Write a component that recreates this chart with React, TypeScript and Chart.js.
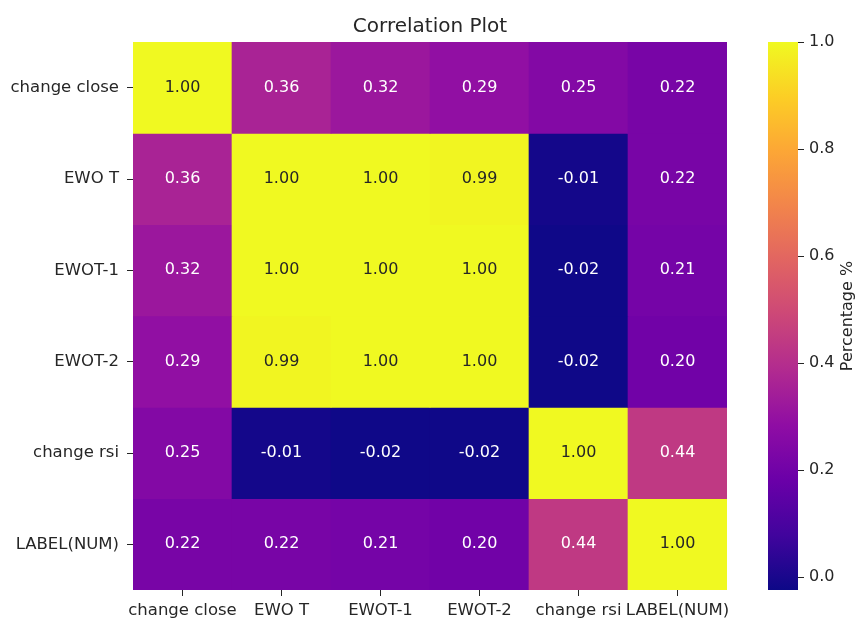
import React, { useEffect, useRef } from "react";
import { Chart, registerables } from "chart.js";

Chart.register(...registerables);

const columnLabels = ["change close", "EWO T", "EWOT-1", "EWOT-2", "change rsi", "LABEL(NUM)"];
const rowLabels = ["change close", "EWO T", "EWOT-1", "EWOT-2", "change rsi", "LABEL(NUM)"];

const rowChangeClose = [1.0, 0.36, 0.32, 0.29, 0.25, 0.22];
const rowEwoT = [0.36, 1.0, 1.0, 0.99, -0.01, 0.22];
const rowEwoT1 = [0.32, 1.0, 1.0, 1.0, -0.02, 0.21];
const rowEwoT2 = [0.29, 0.99, 1.0, 1.0, -0.02, 0.2];
const rowChangeRsi = [0.25, -0.01, -0.02, -0.02, 1.0, 0.44];
const rowLabelNum = [0.22, 0.22, 0.21, 0.2, 0.44, 1.0];

const matrixRows = [rowChangeClose, rowEwoT, rowEwoT1, rowEwoT2, rowChangeRsi, rowLabelNum];

const colorbarTicks = [0, 0.2, 0.4, 0.6, 0.8, 1.0];
const COLOR_MIN = -0.024;
const COLOR_MAX = 1.0;

const PLASMA = [
  "#0d0887", "#41049d", "#6a00a8", "#8f0da4", "#b12a90", "#cc4778",
  "#e16462", "#f2844b", "#fca636", "#fcce25", "#f0f921",
];

const FONT = "'DejaVu Sans', 'Liberation Sans', sans-serif";
const TEXT = "#262626";

function hexToRgb(h: string): number[] {
  const n = parseInt(h.slice(1), 16);
  return [(n >> 16) & 255, (n >> 8) & 255, n & 255];
}

function plasmaRgb(v: number): number[] {
  let t = (v - COLOR_MIN) / (COLOR_MAX - COLOR_MIN);
  t = Math.max(0, Math.min(1, t));
  const pos = t * (PLASMA.length - 1);
  const i = Math.min(PLASMA.length - 2, Math.floor(pos));
  const f = pos - i;
  const a = hexToRgb(PLASMA[i]);
  const b = hexToRgb(PLASMA[i + 1]);
  return a.map((c, k) => Math.round(c + (b[k] - c) * f));
}

function plasmaColor(v: number): string {
  const [r, g, b] = plasmaRgb(v);
  return `rgb(${r},${g},${b})`;
}

function isLight(v: number): boolean {
  const [r, g, b] = plasmaRgb(v).map((c) => {
    const s = c / 255;
    return s <= 0.03928 ? s / 12.92 : Math.pow((s + 0.055) / 1.055, 2.4);
  });
  return 0.2126 * r + 0.7152 * g + 0.0722 * b > 0.408;
}

const annotationPlugin = {
  id: "cellAnnotations",
  afterDatasetsDraw(chart: any) {
    const ctx = chart.ctx;
    ctx.save();
    ctx.font = `16px ${FONT}`;
    ctx.textAlign = "center";
    ctx.textBaseline = "middle";
    chart.data.datasets.forEach((ds: any, di: number) => {
      const meta = chart.getDatasetMeta(di);
      meta.data.forEach((el: any, i: number) => {
        const v = ds.values[i];
        ctx.fillStyle = isLight(v) ? TEXT : "#ffffff";
        ctx.fillText(v.toFixed(2), el.x, (el.y + el.base) / 2);
      });
    });
    ctx.restore();
  },
};

const colorbarPlugin = {
  id: "colorbarFill",
  beforeDatasetsDraw(chart: any) {
    const { ctx, chartArea: a } = chart;
    const y = chart.scales.y;
    const y0 = y.getPixelForValue(COLOR_MIN);
    const y1 = y.getPixelForValue(COLOR_MAX);
    const g = ctx.createLinearGradient(0, y0, 0, y1);
    PLASMA.forEach((c, i) => g.addColorStop(i / (PLASMA.length - 1), c));
    ctx.save();
    ctx.fillStyle = g;
    ctx.fillRect(a.left, a.top, a.right - a.left, a.bottom - a.top);
    ctx.restore();
  },
  afterDraw(chart: any) {
    const { ctx, chartArea: a } = chart;
    ctx.save();
    ctx.translate(108, (a.top + a.bottom) / 2);
    ctx.rotate(-Math.PI / 2);
    ctx.font = `16px ${FONT}`;
    ctx.fillStyle = TEXT;
    ctx.textAlign = "center";
    ctx.textBaseline = "middle";
    ctx.fillText("Percentage %", 0, 0);
    ctx.restore();
  },
};

export default function App() {
  const mainRef = useRef<HTMLCanvasElement | null>(null);
  const cbRef = useRef<HTMLCanvasElement | null>(null);

  useEffect(() => {
    document.body.style.margin = "0";
    const datasets = matrixRows.map((row, r) => ({
      label: rowLabels[r],
      data: row.map(() => [r, r + 1]),
      values: row,
      backgroundColor: row.map((v) => plasmaColor(v)),
      borderWidth: 0,
      grouped: false,
      barPercentage: 1,
      categoryPercentage: 1,
    }));

    const main = new Chart(mainRef.current as HTMLCanvasElement, {
      type: "bar",
      data: { labels: columnLabels, datasets: datasets as any },
      options: {
        responsive: false,
        animation: false,
        layout: { padding: { left: 0, right: 131, top: 0, bottom: 0 } },
        plugins: {
          legend: { display: false },
          tooltip: { enabled: false },
          title: {
            display: true,
            text: "Correlation Plot",
            fullSize: false,
            color: TEXT,
            font: { family: FONT, size: 20, weight: "normal" },
            padding: { top: 15, bottom: 3 },
          },
        },
        scales: {
          x: {
            type: "category",
            grid: {
              offset: false,
              drawOnChartArea: false,
              drawTicks: true,
              tickLength: 6,
              tickColor: TEXT,
            },
            border: { display: false },
            ticks: {
              autoSkip: false,
              maxRotation: 0,
              minRotation: 0,
              padding: 5,
              color: TEXT,
              font: { family: FONT, size: 16.5 },
            },
            afterFit: (s: any) => {
              s.height = 29;
            },
          },
          y: {
            type: "linear",
            min: 0,
            max: 6,
            reverse: true,
            afterBuildTicks: (s: any) => {
              s.ticks = rowLabels.map((_, i) => ({ value: i + 0.5 }));
            },
            grid: {
              drawOnChartArea: false,
              drawTicks: true,
              tickLength: 6,
              tickColor: TEXT,
            },
            border: { display: false },
            ticks: {
              padding: 8,
              color: TEXT,
              font: { family: FONT, size: 16.5 },
              callback: (_v: any, i: number) => rowLabels[i],
            },
            afterFit: (s: any) => {
              s.width = 133;
            },
          },
        },
      } as any,
      plugins: [annotationPlugin],
    });

    const cb = new Chart(cbRef.current as HTMLCanvasElement, {
      type: "bar",
      data: { labels: [""], datasets: [{ data: [] }] },
      options: {
        responsive: false,
        animation: false,
        layout: { padding: { left: 28, right: 0, top: 42, bottom: 29 } },
        plugins: { legend: { display: false }, tooltip: { enabled: false }, title: { display: false } },
        scales: {
          x: { display: false },
          y: {
            type: "linear",
            position: "right",
            min: COLOR_MIN,
            max: COLOR_MAX,
            afterBuildTicks: (s: any) => {
              s.ticks = colorbarTicks.map((v) => ({ value: v }));
            },
            grid: {
              drawOnChartArea: false,
              drawTicks: true,
              tickLength: 6,
              tickColor: TEXT,
            },
            border: { display: false },
            ticks: {
              padding: 5,
              color: TEXT,
              font: { family: FONT, size: 16 },
              callback: (v: any) => Number(v).toFixed(1),
            },
            afterFit: (s: any) => {
              s.width = 60;
            },
          },
        },
      } as any,
      plugins: [colorbarPlugin],
    });

    return () => {
      main.destroy();
      cb.destroy();
    };
  }, []);

  return (
    <div style={{ position: "relative", width: 858, height: 619, background: "#ffffff" }}>
      <canvas ref={mainRef} width={858} height={619} style={{ position: "absolute", left: 0, top: 0 }} />
      <canvas ref={cbRef} width={118} height={619} style={{ position: "absolute", left: 740, top: 0 }} />
    </div>
  );
}
